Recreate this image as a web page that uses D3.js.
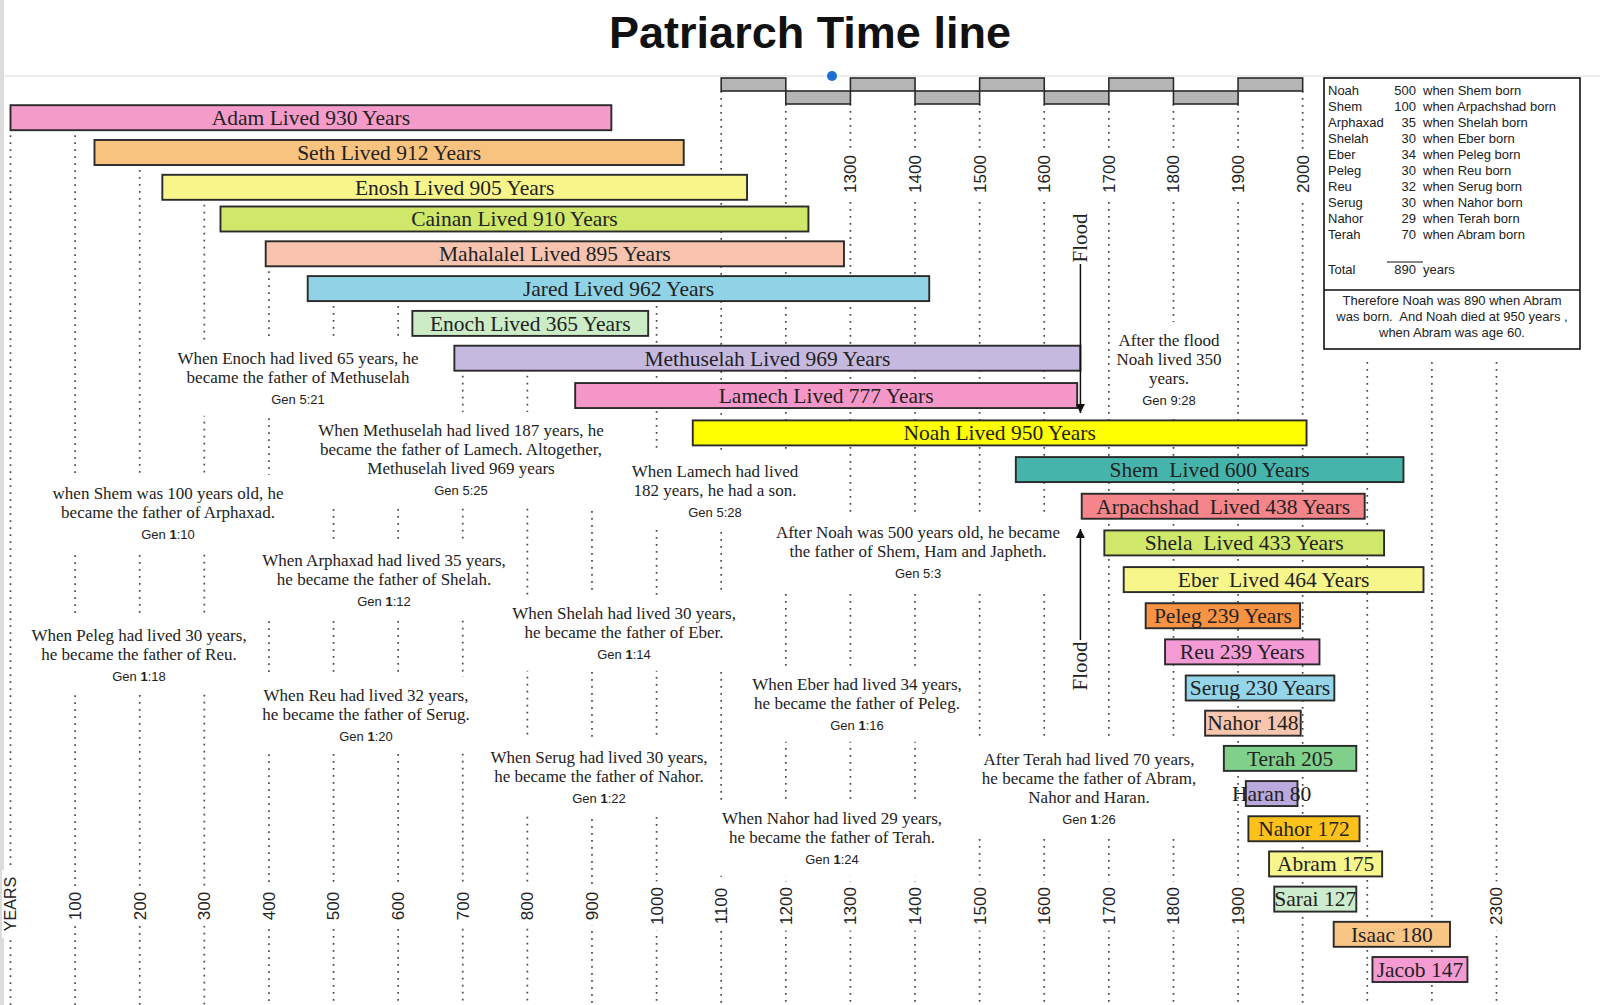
<!DOCTYPE html>
<html>
<head>
<meta charset="utf-8">
<script src="https://cdn.jsdelivr.net/npm/d3@7"></script>
<style>
  html, body { margin: 0; padding: 0; background: #fff; }
  svg { display: block; }
  text { white-space: pre; }
</style>
</head>
<body>
<svg width="1600" height="1005"></svg>
<script>
// ---- data (years are counted from Adam) ----
const names = ['Adam', 'Seth', 'Enosh', 'Cainan', 'Mahalalel', 'Jared', 'Enoch', 'Methuselah', 'Lamech', 'Noah',
  'Shem', 'Arpachshad', 'Shela', 'Eber', 'Peleg', 'Reu', 'Serug', 'Nahor', 'Terah', 'Haran', 'Nahor', 'Abram',
  'Sarai', 'Isaac', 'Jacob'];
const born = [0, 130, 235, 325, 395, 460, 622, 687, 874, 1056, 1556, 1658, 1693, 1723, 1757, 1787, 1819, 1849,
  1878, 1912, 1916, 1948, 1956, 2048, 2108];
const lived = [930, 912, 905, 910, 895, 962, 365, 969, 777, 950, 600, 438, 433, 464, 239, 239, 230, 148, 205, 80,
  172, 175, 127, 180, 147];
const barLabels = ['Adam Lived 930 Years', 'Seth Lived 912 Years', 'Enosh Lived 905 Years', 'Cainan Lived 910 Years',
  'Mahalalel Lived 895 Years', 'Jared Lived 962 Years', 'Enoch Lived 365 Years', 'Methuselah Lived 969 Years',
  'Lamech Lived 777 Years', 'Noah Lived 950 Years', 'Shem  Lived 600 Years', 'Arpachshad  Lived 438 Years',
  'Shela  Lived 433 Years', 'Eber  Lived 464 Years', 'Peleg 239 Years', 'Reu 239 Years', 'Serug 230 Years',
  'Nahor 148', 'Terah 205', 'Haran 80', 'Nahor 172', 'Abram 175', 'Sarai 127', 'Isaac 180', 'Jacob 147'];

const gridYears = d3.range(0, 2400, 100);
const topTicks = [1300, 1400, 1500, 1600, 1700, 1800, 1900, 2000];
const bottomTicks = [100, 200, 300, 400, 500, 600, 700, 800, 900, 1000, 1100, 1200, 1300, 1400, 1500, 1600,
  1700, 1800, 1900, 2300];
const stepCenturies = d3.range(1100, 2000, 100);
const floodYear = 1656;

const tableNames = ['Noah', 'Shem', 'Arphaxad', 'Shelah', 'Eber', 'Peleg', 'Reu', 'Serug', 'Nahor', 'Terah'];
const tableAges = [500, 100, 35, 30, 34, 30, 32, 30, 29, 70];
const tableWhen = ['when Shem born', 'when Arpachshad born', 'when Shelah born', 'when Eber born',
  'when Peleg born', 'when Reu born', 'when Serug born', 'when Nahor born', 'when Terah born', 'when Abram born'];
const tableNote = ['Therefore Noah was 890 when Abram', 'was born.  And Noah died at 950 years ,',
  'when Abram was age 60.'];

const noteLines = [
  ['When Enoch had lived 65 years, he', 'became the father of Methuselah'],
  ['When Methuselah had lived 187 years, he', 'became the father of Lamech. Altogether,', 'Methuselah lived 969 years'],
  ['when Shem was 100 years old, he', 'became the father of Arphaxad.'],
  ['When Lamech had lived', '182 years, he had a son.'],
  ['After Noah was 500 years old, he became', 'the father of Shem, Ham and Japheth.'],
  ['When Arphaxad had lived 35 years,', 'he became the father of Shelah.'],
  ['When Shelah had lived 30 years,', 'he became the father of Eber.'],
  ['When Peleg had lived 30 years,', 'he became the father of Reu.'],
  ['When Reu had lived 32 years,', 'he became the father of Serug.'],
  ['When Eber had lived 34 years,', 'he became the father of Peleg.'],
  ['When Serug had lived 30 years,', 'he became the father of Nahor.'],
  ['When Nahor had lived 29 years,', 'he became the father of Terah.'],
  ['After Terah had lived 70 years,', 'he became the father of Abram,', 'Nahor and Haran.'],
  ['After the flood', 'Noah lived 350', 'years.']
];
const noteRefs = ['Gen 5:21', 'Gen 5:25', 'Gen 1:10', 'Gen 5:28', 'Gen 5:3', 'Gen 1:12', 'Gen 1:14', 'Gen 1:18',
  'Gen 1:20', 'Gen 1:16', 'Gen 1:22', 'Gen 1:24', 'Gen 1:26', 'Gen 9:28'];

// ---- styles and layout ----
const palette = ['#f59bca', '#f8c27f', '#f8f68a', '#d0e86a', '#f8c4b0', '#90d3e6', '#cbecc6', '#c6b9e0',
  '#f598c9', '#ffff00', '#45b5ac', '#f4868b', '#d0e86a', '#f7f68b', '#f79342', '#f49bd6', '#94d5ea', '#f8c6af',
  '#80d08c', '#b9a9dc', '#fcc21b', '#f7f68c', '#cdeccd', '#f9c584', '#f59bd1'];
// first baseline of each note, in pixels
const notePlace = [[298, 364], [461, 436], [168, 499], [715, 477], [918, 538], [384, 566], [624, 619],
  [139, 641], [366, 701], [857, 690], [599, 763], [832, 824], [1089, 765], [1169, 346]];

const W = 1600, H = 1005;
const serif = '"Liberation Serif", "Times New Roman", serif';
const sans = '"Liberation Sans", Arial, sans-serif';
const ink = '#222';

const svg = d3.select('svg');

const x = d3.scaleLinear().domain([0, 2300]).range([10.5, 1496.5]);
// row centres: the original spaces its rows a little unevenly
const y = d3.scaleLinear()
  .domain([0, 2, 3, 7, 9, 13, 16, 24])
  .range([117.7, 187.3, 219, 358.2, 432.9, 579.6, 688, 969.5]);
const barH = 25;
const color = d3.scaleOrdinal(d3.range(names.length), palette);

// page frame
svg.append('rect').attr('width', W).attr('height', H).attr('fill', '#fff');
svg.append('rect').attr('x', 0).attr('y', 0).attr('width', 4).attr('height', H).attr('fill', '#dcdcdc');
svg.append('line').attr('x1', 4).attr('x2', W).attr('y1', 76).attr('y2', 76)
  .attr('stroke', '#e6e6e6').attr('stroke-width', 1.5);

svg.append('text')
  .attr('x', 810).attr('y', 48)
  .attr('text-anchor', 'middle')
  .attr('font-family', sans).attr('font-weight', 'bold').attr('font-size', 45)
  .attr('fill', '#111')
  .text('Patriarch Time line');

// ---- dotted century lines ----
const upperY = [78, 91], lowerY = [91, 104];
const isUpper = c => (c / 100) % 2 === 1;

function gridTop(yr) {
  if (yr > 2000) return 362;
  if (yr >= 1100) return (yr === 1100 || yr === 2000) ? upperY[1] : lowerY[1];
  const covers = j => born[j] <= yr && yr <= born[j] + lived[j];
  let i = 0;
  while (i < names.length && !covers(i)) i++;
  while (i < names.length && covers(i)) i++;
  return y(i - 1) + barH / 2 + 5;
}

svg.append('g').selectAll('line').data(gridYears).join('line')
  .attr('x1', d => x(d)).attr('x2', d => x(d))
  .attr('y1', d => gridTop(d)).attr('y2', H)
  .attr('stroke', '#4a4a4a').attr('stroke-width', 1.7)
  .attr('stroke-dasharray', '1.7 5.3');

// year labels sitting on the lines
function yearLabels(ticks, cy) {
  const g = svg.append('g').selectAll('g').data(ticks).join('g')
    .attr('transform', d => `translate(${x(d)},${cy}) rotate(-90)`);
  g.append('rect')
    .attr('x', d => -(String(d).length * 4.9 + 5)).attr('y', -8)
    .attr('width', d => String(d).length * 9.8 + 10).attr('height', 16)
    .attr('fill', '#fff');
  g.append('text')
    .attr('text-anchor', 'middle').attr('dy', '0.35em')
    .attr('font-family', sans).attr('font-size', 17).attr('fill', ink)
    .text(d => d);
}
yearLabels(topTicks, 174);
yearLabels(bottomTicks, 906);

const yl = svg.append('g').attr('transform', 'translate(10,904) rotate(-90)');
yl.append('rect').attr('x', -34).attr('y', -8).attr('width', 68).attr('height', 16).attr('fill', '#fff');
yl.append('text').attr('text-anchor', 'middle').attr('dy', '0.35em')
  .attr('font-family', sans).attr('font-size', 16).attr('fill', ink).text('YEARS');

// ---- notes ----
const notes = svg.append('g').selectAll('g').data(noteLines).join('g')
  .attr('transform', (d, i) => `translate(${notePlace[i][0]},${notePlace[i][1]})`);
notes.each(function (lines, i) {
  const g = d3.select(this);
  const bg = g.append('rect').attr('fill', '#fff');
  g.selectAll('text.line').data(lines).join('text')
    .attr('class', 'line')
    .attr('y', (d, k) => k * 18.8)
    .attr('text-anchor', 'middle')
    .attr('font-family', serif).attr('font-size', 17).attr('fill', ink)
    .text(d => d);
  const ref = g.append('text')
    .attr('y', (lines.length - 1) * 18.8 + 21)
    .attr('text-anchor', 'middle')
    .attr('font-family', sans).attr('font-size', 13).attr('fill', ink);
  const m = noteRefs[i].match(/^(Gen )1(:.*)$/);
  if (m) {
    ref.append('tspan').text(m[1]);
    ref.append('tspan').attr('font-weight', 'bold').text('1');
    ref.append('tspan').text(m[2]);
  } else {
    ref.text(noteRefs[i]);
  }
  const b = this.getBBox();
  bg.attr('x', b.x - 6).attr('y', b.y - 9).attr('width', b.width + 12).attr('height', b.height + 18);
});

// ---- life bars ----
const bars = svg.append('g').selectAll('g').data(names).join('g');
bars.append('rect')
  .attr('x', (d, i) => x(born[i]))
  .attr('y', (d, i) => y(i) - barH / 2)
  .attr('width', (d, i) => x(born[i] + lived[i]) - x(born[i]))
  .attr('height', barH)
  .attr('fill', (d, i) => color(i))
  .attr('stroke', '#2a2a2a').attr('stroke-width', 1.9);
bars.append('text')
  .attr('x', (d, i) => (x(born[i]) + x(born[i] + lived[i])) / 2)
  .attr('y', (d, i) => y(i))
  .attr('dy', '0.34em')
  .attr('text-anchor', 'middle')
  .attr('font-family', serif).attr('font-size', 21.5).attr('fill', ink)
  .text((d, i) => barLabels[i]);

// ---- the flood ----
const defs = svg.append('defs');
defs.append('marker').attr('id', 'head')
  .attr('viewBox', '0 0 10 10').attr('refX', 10).attr('refY', 5)
  .attr('markerWidth', 9).attr('markerHeight', 9).attr('markerUnits', 'userSpaceOnUse')
  .attr('orient', 'auto')
  .append('path').attr('d', 'M0,0L10,5L0,10Z').attr('fill', '#111');

const fx = x(floodYear);
[[238, 264, 413], [666, 640, 529]].forEach(([cy, from, to]) => {
  svg.append('text')
    .attr('transform', `translate(${fx},${cy}) rotate(-90)`)
    .attr('text-anchor', 'middle').attr('dy', '0.32em')
    .attr('font-family', serif).attr('font-size', 21).attr('fill', ink)
    .text('Flood');
  svg.append('line')
    .attr('x1', fx).attr('x2', fx).attr('y1', from).attr('y2', to)
    .attr('stroke', '#111').attr('stroke-width', 1.5)
    .attr('marker-end', 'url(#head)');
});

// ---- grey century steps along the top ----
svg.append('g').selectAll('rect').data(stepCenturies).join('rect')
  .attr('x', d => x(d)).attr('width', d => x(d + 100) - x(d))
  .attr('y', d => (isUpper(d) ? upperY : lowerY)[0])
  .attr('height', d => (isUpper(d) ? upperY : lowerY)[1] - (isUpper(d) ? upperY : lowerY)[0])
  .attr('fill', '#b5b5b5').attr('stroke', '#2a2a2a').attr('stroke-width', 1.6);

// ---- summary box ----
const box = svg.append('g').attr('font-family', sans).attr('font-size', 13).attr('fill', ink);
box.append('rect').attr('x', 1324).attr('y', 78).attr('width', 256).attr('height', 271)
  .attr('fill', '#fff').attr('stroke', '#111').attr('stroke-width', 1.6);
const rowY = i => 95 + i * 16;
box.selectAll('text.nm').data(tableNames).join('text').attr('class', 'nm')
  .attr('x', 1328).attr('y', (d, i) => rowY(i)).text(d => d);
box.selectAll('text.age').data(tableAges).join('text').attr('class', 'age')
  .attr('x', 1416).attr('y', (d, i) => rowY(i)).attr('text-anchor', 'end').text(d => d);
box.selectAll('text.wh').data(tableWhen).join('text').attr('class', 'wh')
  .attr('x', 1423).attr('y', (d, i) => rowY(i)).text(d => d);
box.append('line').attr('x1', 1387).attr('x2', 1423).attr('y1', 262).attr('y2', 262)
  .attr('stroke', '#111').attr('stroke-width', 1.2);
box.append('text').attr('x', 1328).attr('y', 274).text('Total');
box.append('text').attr('x', 1416).attr('y', 274).attr('text-anchor', 'end').text(d3.sum(tableAges));
box.append('text').attr('x', 1423).attr('y', 274).text('years');
box.append('line').attr('x1', 1324).attr('x2', 1580).attr('y1', 290).attr('y2', 290)
  .attr('stroke', '#111').attr('stroke-width', 1.4);
box.selectAll('text.note').data(tableNote).join('text').attr('class', 'note')
  .attr('x', 1452).attr('y', (d, i) => 305 + i * 16).attr('text-anchor', 'middle').text(d => d);

// stray blue dot from the original capture
svg.append('circle').attr('cx', 832).attr('cy', 76).attr('r', 5).attr('fill', '#1f6fd0');
</script>
</body>
</html>
